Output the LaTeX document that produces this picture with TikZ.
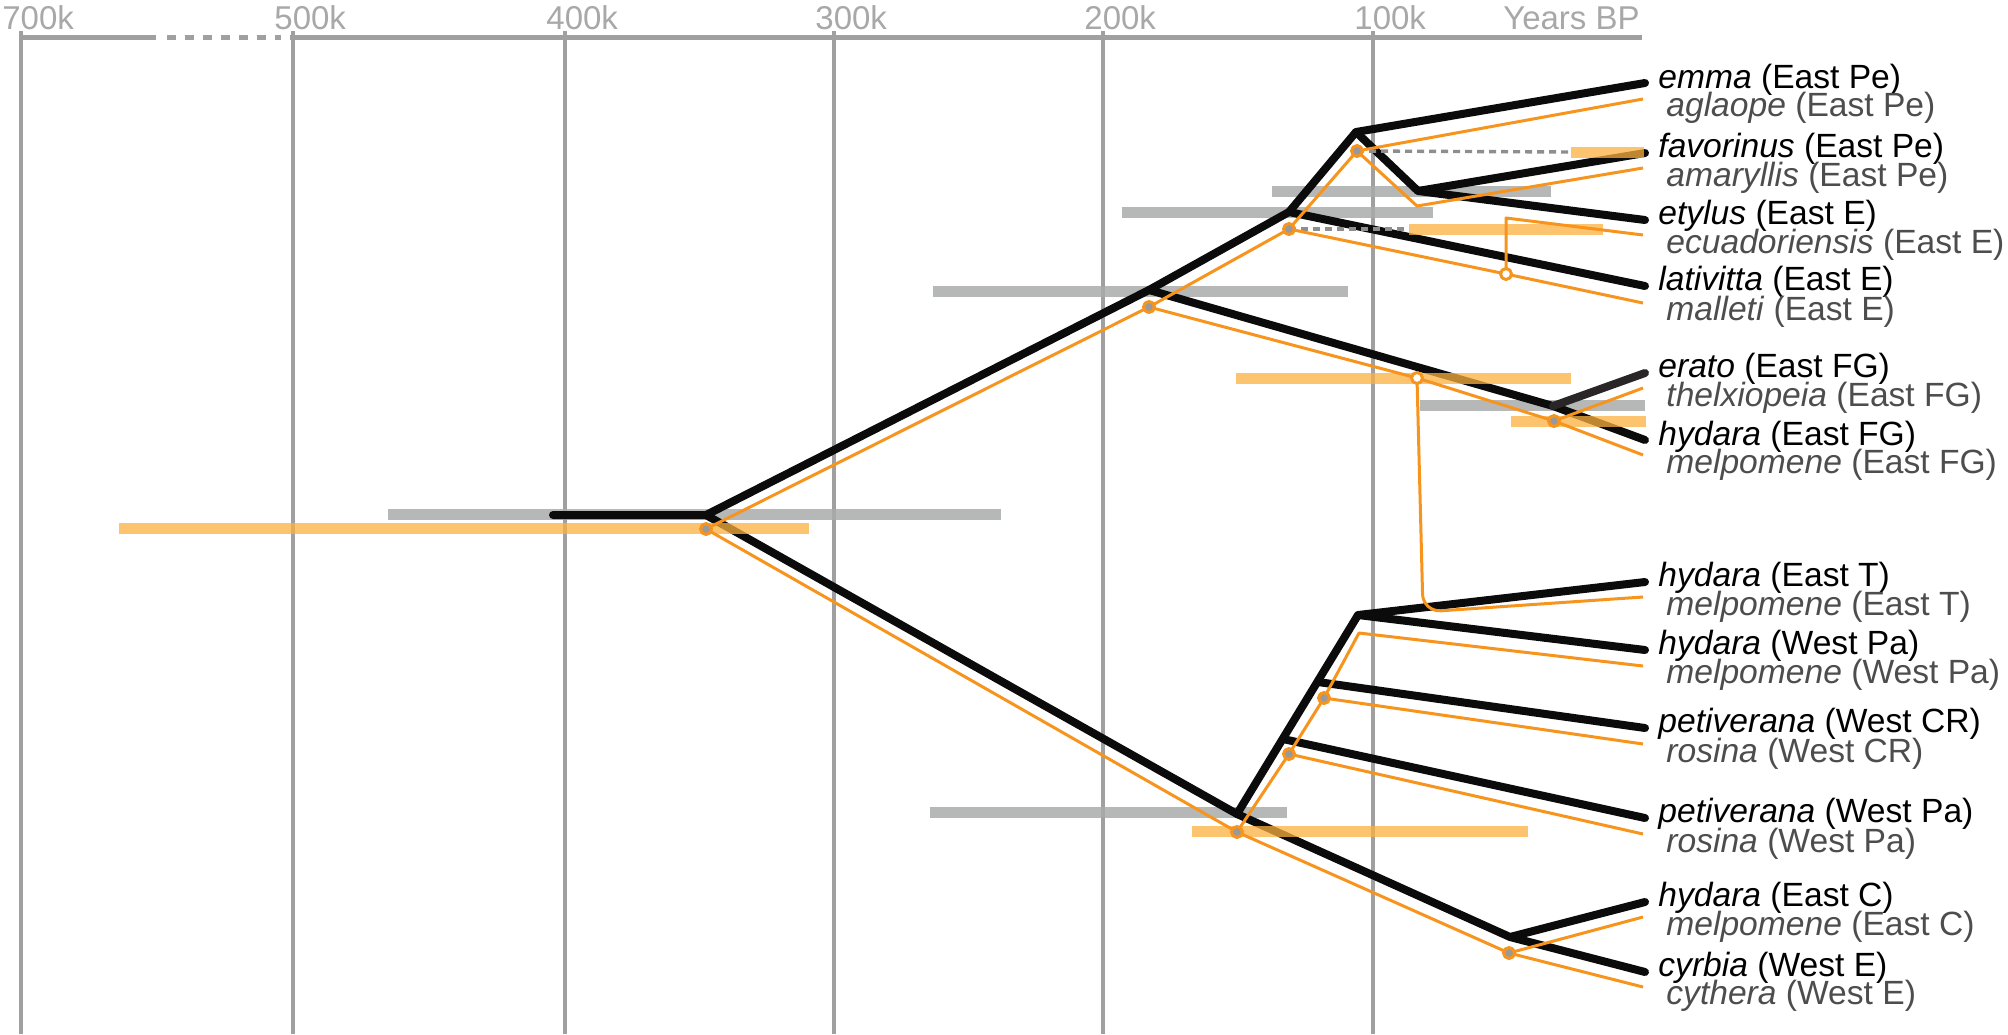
\documentclass[tikz,border=0pt]{standalone}
\usepackage{fontspec}
\setmainfont{Liberation Sans}
\definecolor{axisgray}{HTML}{A0A0A0}
\definecolor{dashgray}{HTML}{8E8E8E}
\definecolor{ticktext}{HTML}{A8A8A8}
\definecolor{hpdgray}{HTML}{A9ABAA}
\definecolor{treeblack}{HTML}{0B0B0B}
\definecolor{eratoblack}{HTML}{2A2627}
\definecolor{treeorange}{HTML}{F7941D}
\definecolor{hpdorange}{HTML}{FCB040}
\definecolor{melptext}{HTML}{4D4D4D}
\definecolor{markgray}{HTML}{999999}
\newcommand\tipfont{\fontsize{16.8}{18}\selectfont}
\newcommand\tickfont{\fontsize{16.5}{18}\selectfont}
\tikzset{
  axisline/.style={axisgray,line width=1.75pt},
  ticklabel/.style={anchor=base west,inner sep=0pt,text=ticktext,font=\tickfont},
  hpdbar/.style={hpdgray,line width=5.5pt,opacity=0.85},
  hpdbarorange/.style={hpdorange,line width=5.5pt,opacity=0.75},
  eratotree/.style={treeblack,line width=4pt,line cap=round,line join=round},
  melptree/.style={treeorange,line width=1.5pt,line join=round},
  linkdash/.style={dashgray,line width=1.7pt,dash pattern=on 3.5pt off 2.5pt},
  nodemark/.style={circle,draw=treeorange,line width=1.5pt,fill=markgray,inner sep=0pt,minimum size=5.5pt},
  openmark/.style={nodemark,fill=white},
  blacklabel/.style={anchor=base west,inner sep=0pt,font=\tipfont},
  graylabel/.style={blacklabel,text=melptext}
}
\begin{document}
\begin{tikzpicture}[x=0.5pt,y=-0.5pt,line join=round]
  \useasboundingbox (0,0) rectangle (2008,1034);
  % time axis
  \foreach \xx/\lab in {21/700k,293/500k,565/400k,834/300k,1103/200k,1373/100k} {
    \draw[axisline] (\xx,31) -- (\xx,1034);
    \node[ticklabel] (t\lab) at (\xx-19,29) {\lab};
  }
  \node[ticklabel,anchor=base east] (tbp) at (1640,29) {Years BP};
  \draw[axisline,line width=2.5pt] (21,37) -- (156,37);
  \draw[axisline,line width=2.5pt,dash pattern=on 4.5pt off 4.5pt] (167,37) -- (281,37);
  \draw[axisline,line width=2.5pt] (290,37) -- (1642,37);

  % erato tree
  \coordinate (r0) at (553,515);   \coordinate (R) at (706,515);
  \coordinate (E) at (1149,290);   \coordinate (EE) at (1289,212);
  \coordinate (EP) at (1356,132);  \coordinate (FE) at (1418,191);
  \coordinate (FG) at (1553,406);  \coordinate (W) at (1237,814);
  \coordinate (WT) at (1358,615);  \coordinate (WC) at (1318,682);
  \coordinate (WP) at (1283,739);  \coordinate (CE) at (1510,937);
  \coordinate (tEmma) at (1645,83);  \coordinate (tFav) at (1645,153);
  \coordinate (tEty) at (1645,220);  \coordinate (tLat) at (1645,286);
  \coordinate (tErato) at (1645,373); \coordinate (tHyFG) at (1645,440);
  \coordinate (tHyT) at (1645,582);  \coordinate (tHyWPa) at (1645,650);
  \coordinate (tPetCR) at (1645,728); \coordinate (tPetPa) at (1645,818);
  \coordinate (tHyC) at (1645,902);  \coordinate (tCyr) at (1645,972);

  % melpomene tree
  \coordinate (oR) at (706,529);   \coordinate (oE) at (1149,307);
  \coordinate (oEE) at (1289,229); \coordinate (oEP) at (1357,151);
  \coordinate (oFA) at (1417,206); \coordinate (oEcu) at (1506,274);
  \coordinate (oEcuT) at (1506,218); \coordinate (oEr) at (1417,378);
  \coordinate (oTc) at (1423,612); \coordinate (oFG) at (1554,421);
  \coordinate (oW) at (1237,832);  \coordinate (oWP) at (1289,754);
  \coordinate (oWC) at (1324,698); \coordinate (oWT) at (1359,633);
  \coordinate (oCE) at (1509,953);
  \coordinate (tAgl) at (1643,99);   \coordinate (tAma) at (1643,168);
  \coordinate (tEcu) at (1643,235);  \coordinate (tMal) at (1643,303);
  \coordinate (tThel) at (1643,388); \coordinate (tMelFG) at (1643,455);
  \coordinate (tMelT) at (1643,597); \coordinate (tMelWPa) at (1643,666);
  \coordinate (tRosCR) at (1643,744); \coordinate (tRosPa) at (1643,834);
  \coordinate (tMelC) at (1643,917); \coordinate (tCyt) at (1643,987);

  % age intervals, erato
  \foreach \xa/\xb/\yy in {388/1001/514,933/1348/291,1122/1433/212,1272/1551/191,1420/1645/405,930/1287/812}
    \draw[hpdbar] (\xa,\yy) -- (\xb,\yy);

  \draw[eratotree] (r0) -- (R) -- (E) -- (EE) -- (EP) -- (tEmma);
  \draw[eratotree] (EP) -- (FE) -- (tFav);
  \draw[eratotree] (FE) -- (tEty);
  \draw[eratotree] (EE) -- (tLat);
  \draw[eratotree] (E) -- (FG) -- (tHyFG);
  \draw[eratotree,eratoblack] (FG) -- (tErato);
  \draw[eratotree] (R) -- (W) -- (WT) -- (tHyT);
  \draw[eratotree] (WT) -- (tHyWPa);
  \draw[eratotree] (WC) -- (tPetCR);
  \draw[eratotree] (WP) -- (tPetPa);
  \draw[eratotree] (W) -- (CE) -- (tHyC);
  \draw[eratotree] (CE) -- (tCyr);

  % age intervals, melpomene
  \coordinate (bFav) at (1571,152); \coordinate (bEcu) at (1409,229);
  \foreach \xa/\xb/\yy in {119/809/528,1571/1644/152,1409/1603/229,1236/1571/378,1511/1646/421,1192/1528/831}
    \draw[hpdbarorange] (\xa,\yy) -- (\xb,\yy);
  \draw[linkdash] (oEP) -- (bFav);
  \draw[linkdash] (oEE) -- (bEcu);

  \draw[melptree] (oR) -- (oE) -- (oEE) -- (oEP) -- (tAgl);
  \draw[melptree] (oEP) -- (oFA) -- (tAma);
  \draw[melptree] (oEE) -- (oEcu) -- (tMal);
  \draw[melptree] (oEcu) -- (oEcuT) -- (tEcu);
  \draw[melptree] (oE) -- (oEr) -- (oFG) -- (tThel);
  \draw[melptree] (oFG) -- (tMelFG);
  \draw[melptree,rounded corners=9pt] (oEr) -- (oTc) -- (tMelT);
  \draw[melptree] (oR) -- (oW) -- (oWP) -- (oWC) -- (oWT) -- (tMelWPa);
  \draw[melptree] (oWC) -- (tRosCR);
  \draw[melptree] (oWP) -- (tRosPa);
  \draw[melptree] (oW) -- (oCE) -- (tMelC);
  \draw[melptree] (oCE) -- (tCyt);

  \foreach \mk in {oR,oE,oEE,oEP,oFG,oW,oWP,oWC,oCE}
    \node[nodemark] (m\mk) at (\mk) {};
  \node[openmark] (moEcu) at (oEcu) {};
  \node[openmark] (moEr) at (oEr) {};

  % tip labels
  \node[blacklabel] (lEmma) at (1658,88) {\textit{emma} (East Pe)};
  \node[graylabel] (lAgl) at (1666,116) {\textit{aglaope} (East Pe)};
  \node[blacklabel] (lFav) at (1658,157) {\textit{favorinus} (East Pe)};
  \node[graylabel] (lAma) at (1666,186) {\textit{amaryllis} (East Pe)};
  \node[blacklabel] (lEty) at (1658,224) {\textit{etylus} (East E)};
  \node[graylabel] (lEcu) at (1666,253) {\textit{ecuadoriensis} (East E)};
  \node[blacklabel] (lLat) at (1658,290) {\textit{lativitta} (East E)};
  \node[graylabel] (lMal) at (1666,320) {\textit{malleti} (East E)};
  \node[blacklabel] (lErato) at (1658,377) {\textit{erato} (East FG)};
  \node[graylabel] (lThel) at (1666,406) {\textit{thelxiopeia} (East FG)};
  \node[blacklabel] (lHyFG) at (1658,445) {\textit{hydara} (East FG)};
  \node[graylabel] (lMelFG) at (1666,473) {\textit{melpomene} (East FG)};
  \node[blacklabel] (lHyT) at (1658,586) {\textit{hydara} (East T)};
  \node[graylabel] (lMelT) at (1666,615) {\textit{melpomene} (East T)};
  \node[blacklabel] (lHyWPa) at (1658,654) {\textit{hydara} (West Pa)};
  \node[graylabel] (lMelWPa) at (1666,683) {\textit{melpomene} (West Pa)};
  \node[blacklabel] (lPetCR) at (1658,732) {\textit{petiverana} (West CR)};
  \node[graylabel] (lRosCR) at (1666,762) {\textit{rosina} (West CR)};
  \node[blacklabel] (lPetPa) at (1658,822) {\textit{petiverana} (West Pa)};
  \node[graylabel] (lRosPa) at (1666,852) {\textit{rosina} (West Pa)};
  \node[blacklabel] (lHyC) at (1658,906) {\textit{hydara} (East C)};
  \node[graylabel] (lMelC) at (1666,935) {\textit{melpomene} (East C)};
  \node[blacklabel] (lCyr) at (1658,976) {\textit{cyrbia} (West E)};
  \node[graylabel] (lCyt) at (1666,1004) {\textit{cythera} (West E)};
\end{tikzpicture}
\end{document}
